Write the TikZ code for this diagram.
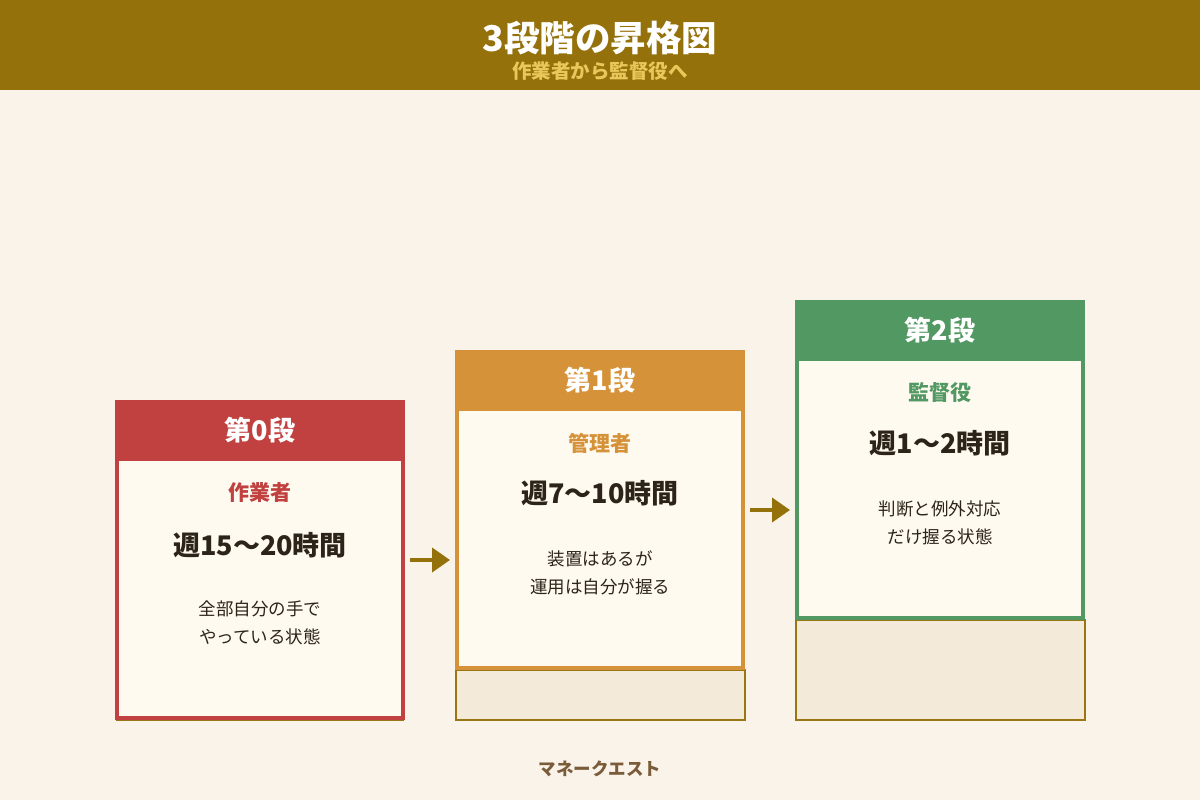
\documentclass[tikz,border=0pt]{standalone}
\usepackage{fontspec}
\setmainfont{Noto Sans CJK JP}
\usetikzlibrary{arrows.meta}
\definecolor{bg}{HTML}{FAF3E9}
\definecolor{bar}{HTML}{94710A}
\definecolor{subtxt}{HTML}{E8C85A}
\definecolor{ink}{HTML}{2D2419}
\definecolor{foot}{HTML}{7A5C3A}
\definecolor{body}{HTML}{FEFAF0}
\definecolor{basefill}{HTML}{F3EADA}
\definecolor{rim}{HTML}{9A7514}
\definecolor{red0}{HTML}{C0413F}
\definecolor{orange1}{HTML}{D69238}
\definecolor{green2}{HTML}{529862}
\tikzset{
  stage/.style={minimum width=286pt,minimum height=316pt,line width=4pt,fill=body,inner sep=0pt},
  head/.style={minimum width=290pt,minimum height=61pt,inner sep=0pt,text=white,font=\fontsize{27}{30}\selectfont\bfseries},
  role/.style={font=\fontsize{21}{24}\selectfont\bfseries},
  hours/.style={text=ink,font=\fontsize{27}{30}\selectfont\bfseries},
  desc/.style={text=ink,align=center,font=\fontsize{17.5}{28}\selectfont},
  baseblock/.style={draw=rim,fill=basefill,line width=1.5pt},
  arr/.style={draw=bar,line width=4pt,-{Triangle[length=18pt,width=24pt]},shorten <=5pt,shorten >=5pt}
}
\begin{document}
\begin{tikzpicture}[x=1pt,y=-1pt]
        \fill[bg] (0,0) rectangle (1200,800);
        \fill[bar] (0,0) rectangle (1200,90);
        \node[text=white,font=\fontsize{35.5}{40}\selectfont\bfseries] (title) at (600,38) {3段階の昇格図};
        \node[text=subtxt,font=\fontsize{19.5}{22}\selectfont\bfseries] (subtitle) at (600,71) {作業者から監督役へ};
        \draw[rim,line width=1.5pt] (116,720) -- (404,720);
        \draw[baseblock] (456,670) rectangle (745,720);
        \draw[baseblock] (796,620) rectangle (1085,720);
        \node[stage,draw=red0] (s0) at (260,560) {};
        \node[head,fill=red0] (h0) at (260,430.5) {第0段};
        \node[role,text=red0] (r0) at (260,493) {作業者};
        \node[hours] (t0) at (260,545) {週15〜20時間};
        \node[desc] (d0) at (260,623) {全部自分の手で\\やっている状態};
        \node[stage,draw=orange1] (s1) at (600,510) {};
        \node[head,fill=orange1] (h1) at (600,380.5) {第1段};
        \node[role,text=orange1] (r1) at (600,443) {管理者};
        \node[hours] (t1) at (600,493) {週7〜10時間};
        \node[desc] (d1) at (600,573) {装置はあるが\\運用は自分が握る};
        \node[stage,draw=green2] (s2) at (940,460) {};
        \node[head,fill=green2] (h2) at (940,330.5) {第2段};
        \node[role,text=green2] (r2) at (940,393) {監督役};
        \node[hours] (t2) at (940,443) {週1〜2時間};
        \node[desc] (d2) at (940,523) {判断と例外対応\\だけ握る状態};
        \draw[arr] (s0.east) -- (s0.east -| s1.west);
        \draw[arr] (s1.east) -- (s1.east -| s2.west);
        \node[text=foot,font=\fontsize{17.5}{20}\selectfont\bfseries] (brand) at (600,769) {マネークエスト};
\end{tikzpicture}
\end{document}
